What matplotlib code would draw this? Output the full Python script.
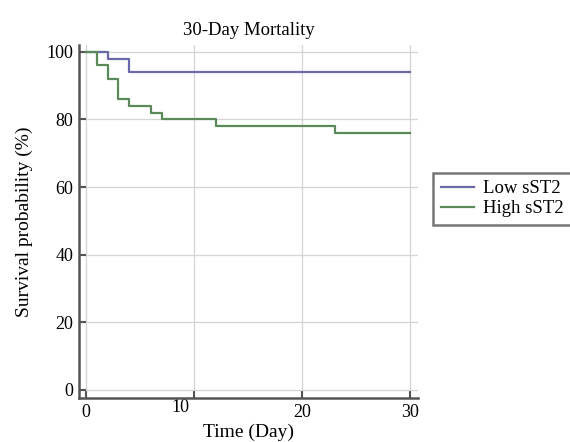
import numpy as np
import matplotlib.pyplot as plt
from matplotlib.transforms import ScaledTranslation

plt.rcParams['font.family'] = ['Liberation Serif', 'DejaVu Serif']

# Kaplan-Meier step data
t_low = [0, 2, 4, 30]
s_low = [100, 98, 94, 94]

t_high = [0, 1, 2, 3, 4, 6, 7, 12, 23, 30]
s_high = [100, 96, 92, 86, 84, 82, 80, 78, 76, 76]

xticks = [0, 10, 20, 30]
yticks = [0, 20, 40, 60, 80, 100]

fig = plt.figure(figsize=(5.7, 4.42), dpi=100)
ax = fig.add_axes([0.1386, 0.0995, 0.5947, 0.7986])

ax.step(t_low, s_low, where='post', color='#6a6aaa', lw=1.6, label='Low sST2')
ax.step(t_high, s_high, where='post', color='#5a8a5a', lw=1.6, label='High sST2')

ax.set_xlim(-0.65, 30.7)
ax.set_ylim(-2.4, 102)
ax.set_xticks(xticks)
ax.set_yticks(yticks)
ax.grid(True, color='#d4d4d4', lw=0.9)
ax.set_axisbelow(True)

for s in ['top', 'right']:
    ax.spines[s].set_visible(False)
for s in ['left', 'bottom']:
    ax.spines[s].set_color('#555555')
    ax.spines[s].set_linewidth(1.8)

ax.tick_params(direction='in', length=5, width=1.5, color='#555555',
               labelsize=13, pad=4)

ax.set_title('30-Day Mortality', fontsize=13.5, pad=7)
ax.set_xlabel('Time (Day)', fontsize=14, labelpad=2)
ax.set_ylabel('Survival probability (%)', fontsize=14, labelpad=10)

# the "10" label sits a bit left of its tick in the original
lab = ax.get_xticklabels()[1]
lab.set_transform(lab.get_transform() + ScaledTranslation(-0.14, 0.05, fig.dpi_scale_trans))

leg = fig.legend(loc='upper left', bbox_to_anchor=(0.76, 0.609), fontsize=13.5,
                 frameon=True, fancybox=False, handlelength=1.8, handletextpad=0.45,
                 borderpad=0.4, labelspacing=0.15, borderaxespad=0)
leg.get_frame().set_edgecolor('#555555')
leg.get_frame().set_linewidth(1.8)

fig.savefig('out.png', dpi=100)
